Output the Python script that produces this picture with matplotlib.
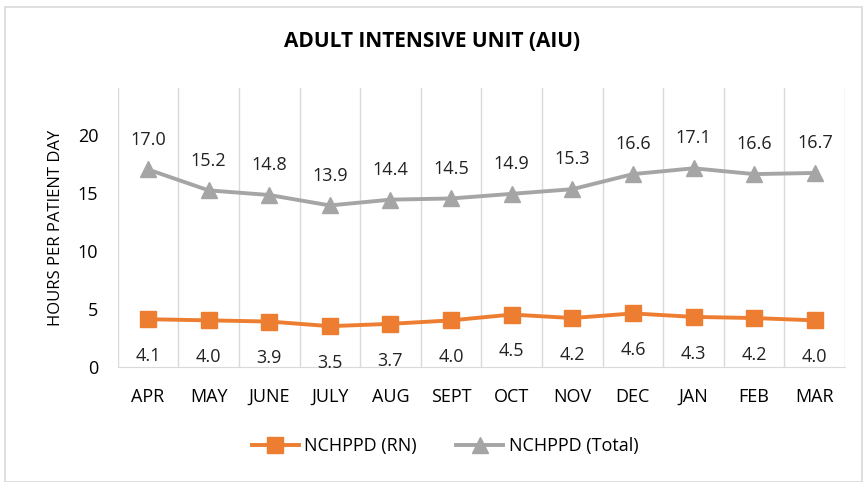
import matplotlib.pyplot as plt
import numpy as np

months = ["APR", "MAY", "JUNE", "JULY", "AUG", "SEPT", "OCT", "NOV", "DEC", "JAN", "FEB", "MAR"]
rn = [4.1, 4.0, 3.9, 3.5, 3.7, 4.0, 4.5, 4.2, 4.6, 4.3, 4.2, 4.0]
total = [17.0, 15.2, 14.8, 13.9, 14.4, 14.5, 14.9, 15.3, 16.6, 17.1, 16.6, 16.7]

plt.rcParams['font.family'] = ['Open Sans', 'DejaVu Sans']

fig = plt.figure(figsize=(8.65, 4.82), dpi=100)
ax = fig.add_axes([0.136, 0.239, 0.841, 0.578])

x = np.arange(len(months))
ax.plot(x, rn, color="#ED7D31", lw=2.8, marker="s", markersize=11, label="NCHPPD (RN)")
ax.plot(x, total, color="#A5A5A5", lw=2.8, marker="^", markersize=11, label="NCHPPD (Total)")

for i in x:
    ax.annotate(f"{total[i]:.1f}", (i, total[i]), xytext=(0, 15), textcoords="offset points",
                ha="center", va="bottom", fontsize=13, color="#222222")
    ax.annotate(f"{rn[i]:.1f}", (i, rn[i]), xytext=(0, -20), textcoords="offset points",
                ha="center", va="top", fontsize=13, color="#222222")

ax.set_xlim(-0.5, len(months) - 0.5)
ax.set_ylim(0, 24)
ax.set_yticks([0, 5, 10, 15, 20])
ax.set_xticks(x)
ax.set_xticklabels(months, fontsize=13)
ax.tick_params(axis="y", labelsize=13, length=0, pad=14)
ax.tick_params(axis="x", length=0, pad=15)
for b in np.arange(-0.5, len(months), 1.0):
    ax.axvline(b, color="#D9D9D9", lw=1, zorder=0)
for s in ["top", "right", "left"]:
    ax.spines[s].set_visible(False)
ax.spines["bottom"].set_color("#D9D9D9")
ax.set_ylabel("HOURS PER PATIENT DAY", fontsize=12, labelpad=10)

fig.suptitle("ADULT INTENSIVE UNIT (AIU)", x=0.5, y=0.935, fontsize=15, fontweight="bold")
ax.legend(loc="center", bbox_to_anchor=(0.45, -0.285), ncol=2, frameon=False, fontsize=13,
          handlelength=2.6, handletextpad=0.3, columnspacing=2.2)

fig.patches.append(plt.Rectangle((0.006, 0.0), 0.99, 0.985, transform=fig.transFigure,
                                 fill=False, edgecolor="#D9D9D9", lw=1.2))
fig.savefig("out.png", dpi=100)
